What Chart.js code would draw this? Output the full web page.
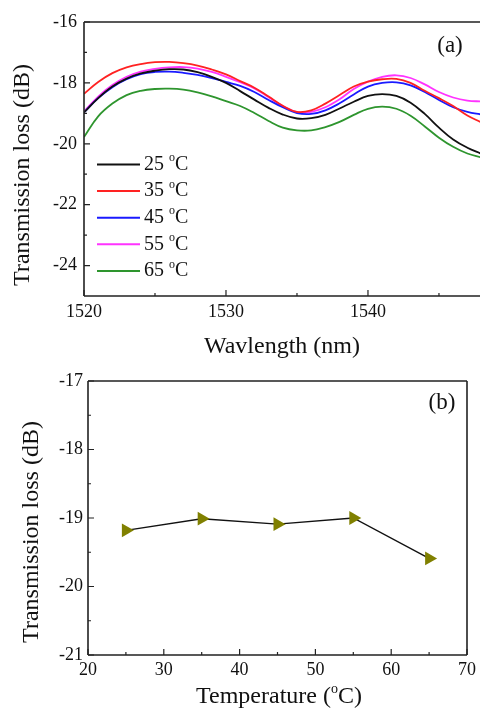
<!DOCTYPE html>
<html>
<head>
<meta charset="utf-8">
<script src="https://cdn.jsdelivr.net/npm/chart.js@4.4.1/dist/chart.umd.min.js"></script>
<style>
  html, body { margin: 0; padding: 0; background: #fff; overflow: hidden; }
  .panel { position: absolute; left: 0; width: 480px; }
  #top { top: 0; height: 360px; }
  #bottom { top: 360px; height: 348px; }
</style>
</head>
<body>
<div class="panel" id="top"><canvas id="spectra"></canvas></div>
<div class="panel" id="bottom"><canvas id="dip"></canvas></div>
<script>
const SERIF = "'Liberation Serif', 'Times New Roman', serif";
Chart.defaults.font.family = SERIF;
Chart.defaults.color = '#000';

// transmission spectra, one reading per nm
const wavelength = [1520, 1521, 1522, 1523, 1524, 1525, 1526, 1527, 1528, 1529,
                    1530, 1531, 1532, 1533, 1534, 1535, 1536, 1537, 1538, 1539,
                    1540, 1541, 1542, 1543, 1544, 1545, 1546, 1547, 1548];
const loss25 = [-18.97, -18.50, -18.12, -17.86, -17.69, -17.60, -17.55, -17.56, -17.65, -17.80,
                -18.00, -18.27, -18.55, -18.82, -19.04, -19.17, -19.16, -19.05, -18.84, -18.62,
                -18.43, -18.37, -18.43, -18.65, -19.02, -19.47, -19.86, -20.13, -20.33];
const loss35 = [-18.36, -17.97, -17.68, -17.49, -17.38, -17.32, -17.31, -17.35, -17.43, -17.56,
                -17.72, -17.94, -18.16, -18.45, -18.75, -18.95, -18.90, -18.68, -18.40, -18.12,
                -17.96, -17.88, -17.87, -18.00, -18.26, -18.50, -18.76, -19.07, -19.30];
const loss45 = [-18.97, -18.50, -18.14, -17.88, -17.71, -17.64, -17.63, -17.67, -17.74, -17.84,
                -17.97, -18.10, -18.30, -18.56, -18.80, -18.99, -19.02, -18.90, -18.67, -18.38,
                -18.12, -18.00, -17.98, -18.08, -18.30, -18.56, -18.80, -18.95, -19.04];
const loss55 = [-18.94, -18.45, -18.07, -17.80, -17.63, -17.54, -17.49, -17.48, -17.53, -17.64,
                -17.80, -17.98, -18.18, -18.47, -18.76, -18.96, -18.95, -18.80, -18.54, -18.20,
                -17.96, -17.80, -17.75, -17.84, -18.05, -18.30, -18.48, -18.58, -18.61];
const loss65 = [-19.78, -19.10, -18.68, -18.40, -18.26, -18.20, -18.19, -18.22, -18.31, -18.44,
                -18.60, -18.76, -18.99, -19.25, -19.47, -19.56, -19.56, -19.45, -19.28, -19.05,
                -18.85, -18.78, -18.85, -19.08, -19.43, -19.80, -20.10, -20.32, -20.45];

const seriesNames = ['25', '35', '45', '55', '65'];
const seriesColors = ['#111111', '#ff2222', '#1a1aff', '#ff33ff', '#2e952e'];

// loss at the 1535 nm dip versus temperature
const temperature = [25, 35, 45, 55, 65];
const dipLoss = [-19.18, -19.01, -19.09, -19.00, -19.59];

const spectraTicksX = [1520, 1530, 1540];
const spectraMinorX = [1525, 1535, 1545];
const spectraTicksY = [-16, -18, -20, -22, -24];
const spectraMinorY = [-17, -19, -21, -23];
const dipTicksX = [20, 30, 40, 50, 60, 70];
const dipMinorX = [25, 35, 45, 55, 65];
const dipTicksY = [-17, -18, -19, -20, -21];
const dipMinorY = [-17.5, -18.5, -19.5, -20.5];

const toPoints = (xs, ys) => xs.map((x, i) => ({ x: x, y: ys[i] }));

// text made of plain and raised pieces, e.g. the "o" in "oC"
function drawParts(ctx, parts, x, y, size, align) {
  const big = size + 'px ' + SERIF;
  const small = Math.round(size * 0.6) + 'px ' + SERIF;
  let total = 0;
  parts.forEach(p => { ctx.font = p.sup ? small : big; total += ctx.measureText(p.t).width; });
  let cx = align === 'center' ? x - total / 2 : x;
  ctx.textBaseline = 'middle';
  ctx.textAlign = 'left';
  parts.forEach(p => {
    ctx.font = p.sup ? small : big;
    ctx.fillText(p.t, cx, p.sup ? y - size * 0.32 : y);
    cx += ctx.measureText(p.t).width;
  });
}

// box lines and inward tick marks
const framePlugin = {
  id: 'frame',
  afterDatasetsDraw(chart, args, opts) {
    const { ctx, chartArea: a } = chart;
    const x = chart.scales.x, y = chart.scales.y;
    ctx.save();
    ctx.strokeStyle = '#222';
    ctx.lineWidth = 1.6;
    ctx.beginPath();
    ctx.moveTo(a.left, a.top); ctx.lineTo(a.left, a.bottom);
    ctx.moveTo(a.left, a.bottom); ctx.lineTo(a.right, a.bottom);
    ctx.moveTo(a.left, a.top); ctx.lineTo(a.right, a.top);
    if (opts.right) { ctx.moveTo(a.right, a.top); ctx.lineTo(a.right, a.bottom); }
    ctx.stroke();
    ctx.lineWidth = 1.2;
    ctx.beginPath();
    const xt = (v, len) => { const p = x.getPixelForValue(v); ctx.moveTo(p, a.bottom); ctx.lineTo(p, a.bottom - len); };
    const yt = (v, len) => { const p = y.getPixelForValue(v); ctx.moveTo(a.left, p); ctx.lineTo(a.left + len, p); };
    x.ticks.forEach(t => xt(t.value, 6));
    opts.minorX.forEach(v => xt(v, 3));
    y.ticks.forEach(t => yt(t.value, 6));
    opts.minorY.forEach(v => yt(v, 3));
    ctx.stroke();
    ctx.restore();
  }
};

// axis titles, panel tag and the in-plot legend
const notesPlugin = {
  id: 'notes',
  afterDraw(chart, args, opts) {
    const ctx = chart.ctx;
    ctx.save();
    ctx.fillStyle = '#111';
    ctx.save();
    ctx.translate(opts.yTitle.x, opts.yTitle.y);
    ctx.rotate(-Math.PI / 2);
    ctx.font = '24px ' + SERIF;
    ctx.textAlign = 'center';
    ctx.textBaseline = 'middle';
    ctx.fillText('Transmission loss (dB)', 0, 0);
    ctx.restore();
    drawParts(ctx, opts.xTitle.parts, opts.xTitle.x, opts.xTitle.y, 24, 'center');
    drawParts(ctx, [{ t: opts.tag.t }], opts.tag.x, opts.tag.y, 23, 'center');
    if (opts.legend) {
      const L = opts.legend;
      L.names.forEach((name, i) => {
        const ly = L.y + i * L.step;
        ctx.strokeStyle = L.colors[i];
        ctx.lineWidth = 2;
        ctx.beginPath();
        ctx.moveTo(L.x, ly);
        ctx.lineTo(L.x + 43, ly);
        ctx.stroke();
        ctx.fillStyle = '#111';
        drawParts(ctx, [{ t: name + ' ' }, { t: 'o', sup: true }, { t: 'C' }], L.x + 47, ly, 20, 'left');
      });
    }
    ctx.restore();
  }
};

const tickFont = { family: SERIF, size: 18 };
const plainLabel = v => String(v);

new Chart(document.getElementById('spectra'), {
  type: 'line',
  data: {
    datasets: [loss25, loss35, loss45, loss55, loss65].map((ys, i) => ({
      label: seriesNames[i] + ' °C',
      data: toPoints(wavelength, ys),
      borderColor: seriesColors[i],
      borderWidth: 1.8,
      pointRadius: 0,
      tension: 0.4
    }))
  },
  options: {
    responsive: true,
    maintainAspectRatio: false,
    animation: false,
    events: [],
    layout: { padding: { top: 22, right: 0, left: 0, bottom: 0 } },
    scales: {
      x: {
        type: 'linear', min: 1520, max: 1547.89,
        grid: { display: false, drawTicks: false },
        border: { display: false },
        ticks: { font: tickFont, padding: 5, color: '#111', callback: plainLabel },
        afterBuildTicks: s => { s.ticks = spectraTicksX.map(v => ({ value: v })); },
        afterFit: s => { s.height = 64; }
      },
      y: {
        min: -25, max: -16,
        grid: { display: false, drawTicks: false },
        border: { display: false },
        ticks: { font: tickFont, padding: 7, color: '#111', callback: plainLabel },
        afterBuildTicks: s => { s.ticks = spectraTicksY.map(v => ({ value: v })); },
        afterFit: s => { s.width = 84; }
      }
    },
    plugins: {
      legend: { display: false },
      tooltip: { enabled: false },
      frame: { right: false, minorX: spectraMinorX, minorY: spectraMinorY },
      notes: {
        yTitle: { x: 23, y: 175 },
        xTitle: { x: 282, y: 347, parts: [{ t: 'Wavlength (nm)' }] },
        tag: { t: '(a)', x: 450, y: 46 },
        legend: { names: seriesNames, colors: seriesColors, x: 97, y: 164.5, step: 26.6 }
      }
    }
  },
  plugins: [framePlugin, notesPlugin]
});

new Chart(document.getElementById('dip'), {
  type: 'scatter',
  data: {
    datasets: [{
      label: 'Transmission loss',
      data: toPoints(temperature, dipLoss),
      showLine: true,
      borderColor: '#111',
      borderWidth: 1.4,
      pointStyle: 'triangle',
      pointRotation: 90,
      pointRadius: 8,
      pointBorderWidth: 0,
      pointBackgroundColor: '#808000'
    }]
  },
  options: {
    responsive: true,
    maintainAspectRatio: false,
    animation: false,
    events: [],
    layout: { padding: { top: 21, right: 11, left: 0, bottom: 0 } },
    scales: {
      x: {
        type: 'linear', min: 20, max: 70,
        grid: { display: false, drawTicks: false },
        border: { display: false },
        ticks: { font: tickFont, padding: 4, color: '#111', callback: plainLabel },
        afterBuildTicks: s => { s.ticks = dipTicksX.map(v => ({ value: v })); },
        afterFit: s => { s.height = 53; }
      },
      y: {
        min: -21, max: -17,
        grid: { display: false, drawTicks: false },
        border: { display: false },
        ticks: { font: tickFont, padding: 5, color: '#111', callback: plainLabel },
        afterBuildTicks: s => { s.ticks = dipTicksY.map(v => ({ value: v })); },
        afterFit: s => { s.width = 88; }
      }
    },
    plugins: {
      legend: { display: false },
      tooltip: { enabled: false },
      frame: { right: true, minorX: dipMinorX, minorY: dipMinorY },
      notes: {
        yTitle: { x: 32, y: 172 },
        xTitle: { x: 279, y: 337, parts: [{ t: 'Temperature (' }, { t: 'o', sup: true }, { t: 'C)' }] },
        tag: { t: '(b)', x: 442, y: 43 }
      }
    }
  },
  plugins: [framePlugin, notesPlugin]
});
</script>
</body>
</html>
